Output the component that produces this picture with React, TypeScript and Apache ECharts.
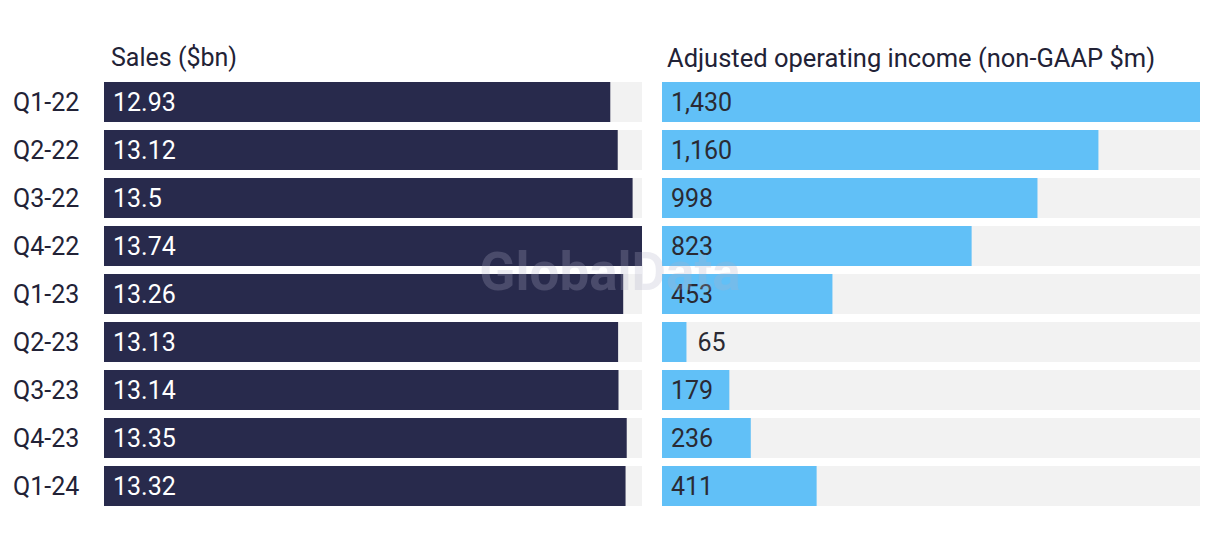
import React, { useEffect, useRef } from "react";
import * as echarts from "echarts";

const categories = ["Q1-22", "Q2-22", "Q3-22", "Q4-22", "Q1-23", "Q2-23", "Q3-23", "Q4-23", "Q1-24"];
const sales = [12.93, 13.12, 13.5, 13.74, 13.26, 13.13, 13.14, 13.35, 13.32];
const income = [1430, 1160, 998, 823, 453, 65, 179, 236, 411];
const salesTitle = "Sales ($bn)";
const incomeTitle = "Adjusted operating income (non-GAAP $m)";

const FONT = "Roboto";
const DARK = "#282a4c";
const BLUE = "#61c0f7";
const BG = "#f2f2f2";

export default function App() {
  const ref = useRef<HTMLDivElement>(null);
  useEffect(() => {
    const chart = echarts.init(ref.current!, null, { renderer: "svg" });
    const incomeMax = Math.max(...income);
    const salesMax = Math.max(...sales);
    chart.setOption({
      animation: false,
      textStyle: { fontFamily: FONT },
      title: [
        { text: salesTitle, left: 98, top: 32, textStyle: { fontFamily: FONT, fontSize: 25, fontWeight: "normal", color: "#222236" } },
        { text: incomeTitle, left: 654, top: 32, textStyle: { fontFamily: FONT, fontSize: 25.5, fontWeight: "normal", color: "#222236" } },
      ],
      grid: [
        { left: 96, width: 538, top: 70, height: 432 },
        { left: 654, width: 538, top: 70, height: 432 },
      ],
      xAxis: [
        { type: "value", gridIndex: 0, min: 0, max: salesMax, show: false },
        { type: "value", gridIndex: 1, min: 0, max: incomeMax, show: false },
      ],
      yAxis: [
        {
          type: "category", gridIndex: 0, data: categories, inverse: true,
          axisLine: { show: false }, axisTick: { show: false },
          axisLabel: { align: "left", margin: 91, fontSize: 25, color: "#222236", fontFamily: FONT },
        },
        {
          type: "category", gridIndex: 1, data: categories, inverse: true,
          axisLine: { show: false }, axisTick: { show: false }, axisLabel: { show: false },
        },
      ],
      series: [
        {
          type: "bar", xAxisIndex: 0, yAxisIndex: 0, data: sales, barWidth: 40,
          itemStyle: { color: DARK },
          showBackground: true, backgroundStyle: { color: BG },
          label: { show: true, position: "insideLeft", distance: 9, color: "#ffffff", fontSize: 25, fontFamily: FONT },
        },
        {
          type: "bar", xAxisIndex: 1, yAxisIndex: 1, barWidth: 40,
          data: income.map((v) =>
            v < 100
              ? { value: v, label: { position: "right", distance: 11 } }
              : { value: v }
          ),
          itemStyle: { color: BLUE },
          showBackground: true, backgroundStyle: { color: BG },
          label: {
            show: true, position: "insideLeft", distance: 9, color: "#2a2a33", fontSize: 25, fontFamily: FONT,
            formatter: (p: any) => Number(p.value).toLocaleString("en-US"),
          },
        },
      ],
      graphic: [
        {
          type: "text", x: 602, y: 264, z: 100,
          style: {
            text: "GlobalData", font: "bold 53px " + FONT, fill: "rgba(175,177,198,0.25)",
            textAlign: "center", textVerticalAlign: "middle",
          },
        },
      ],
    });
    return () => chart.dispose();
  }, []);
  return <div ref={ref} style={{ width: 1204, height: 532 }} />;
}
